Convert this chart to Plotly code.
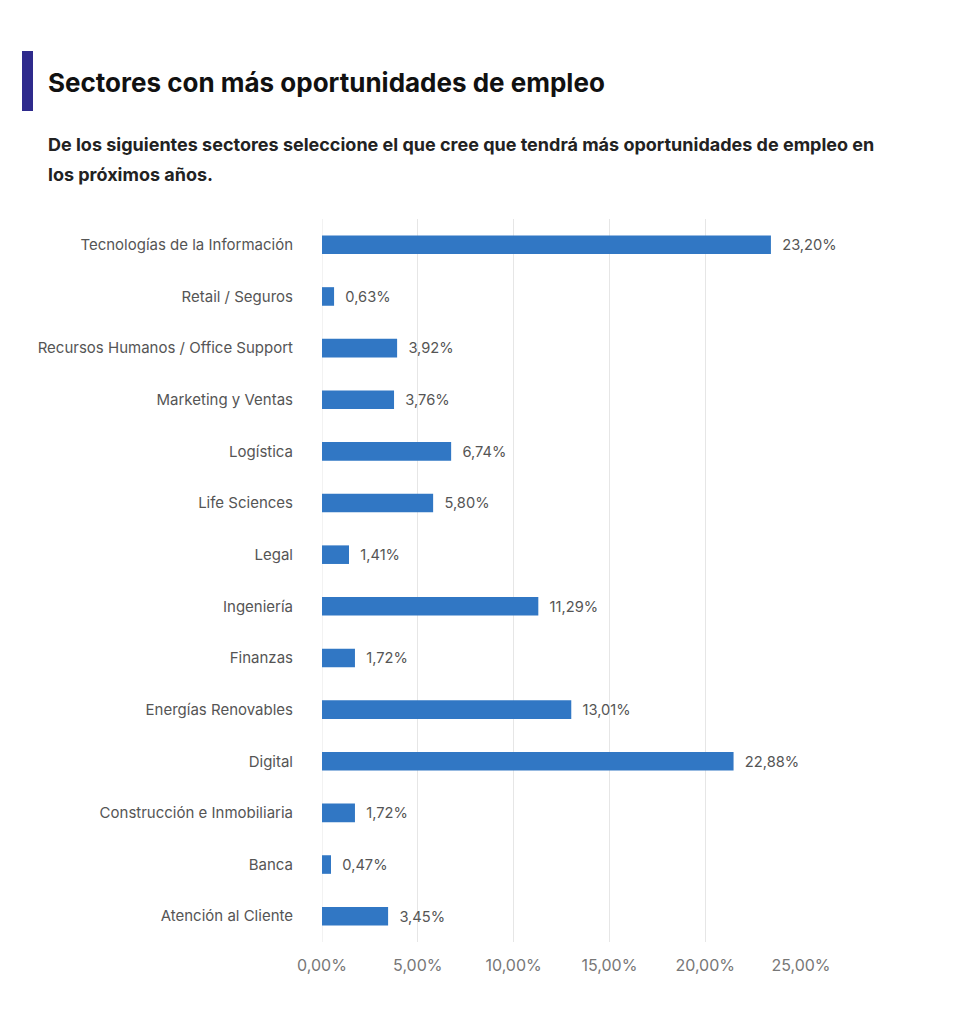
import plotly.graph_objects as go

categories = [
    "Tecnologías de la Información", "Retail / Seguros",
    "Recursos Humanos / Office Support", "Marketing y Ventas", "Logística",
    "Life Sciences", "Legal", "Ingeniería", "Finanzas",
    "Energías Renovables", "Digital", "Construcción e Inmobiliaria",
    "Banca", "Atención al Cliente",
]
# bar lengths as drawn in the picture
bar_values = [23.43, 0.63, 3.92, 3.76, 6.74, 5.80, 1.41, 11.29, 1.72,
              13.01, 21.48, 1.72, 0.47, 3.45]
# printed labels
label_values = [23.20, 0.63, 3.92, 3.76, 6.74, 5.80, 1.41, 11.29, 1.72,
                13.01, 22.88, 1.72, 0.47, 3.45]
tick_values = [0, 5, 10, 15, 20, 25]
tick_labels = ["0,00%", "5,00%", "10,00%", "15,00%", "20,00%", "25,00%"]

labels = ["\u00a0\u00a0" + f"{v:.2f}".replace(".", ",") + "%" for v in label_values]

FONT = "Inter, Lato, sans-serif"

# page body offset of 8px
OFF = 8
W, H = 962 - 2 * OFF, 1024 - 2 * OFF
L = 322 - OFF
T = 219 - OFF
R = W - (801 - OFF)
B = H - (942 - OFF)
ph = H - T - B
pw = W - L - R

def py(ypx):
    return (H - B - (ypx - OFF)) / ph

def px(xpx):
    return ((xpx - OFF) - L) / pw

fig = go.Figure(go.Bar(
    y=categories, x=bar_values, orientation="h",
    marker=dict(color="#3177C4", line=dict(width=0)),
    width=0.36,
    text=labels, textposition="outside", cliponaxis=False,
    textfont=dict(size=15, color="#555555", family=FONT),
    hoverinfo="skip",
))

fig.update_layout(
    width=W, height=H,
    margin=dict(l=L, r=R, t=T, b=B),
    paper_bgcolor="white", plot_bgcolor="white",
    showlegend=False,
    font=dict(family=FONT, color="#555555"),
    xaxis=dict(
        range=[0, 25], tickvals=tick_values, ticktext=tick_labels,
        showgrid=True, gridcolor="#e6e6e6", gridwidth=1,
        zeroline=False, showline=False,
        tickfont=dict(size=16, color="#777777", family=FONT),
        ticklabelstandoff=12, fixedrange=True,
    ),
    yaxis=dict(
        autorange="reversed", showgrid=False, showline=False, zeroline=False,
        tickfont=dict(size=15, color="#555555", family=FONT),
        ticklabelstandoff=28, fixedrange=True,
    ),
    shapes=[dict(
        type="rect", xref="paper", yref="paper",
        x0=px(22), x1=px(33), y0=py(111), y1=py(51),
        fillcolor="#2E2A8C", line=dict(width=0),
    ), dict(
        type="line", xref="x", yref="paper", x0=0, x1=0, y0=0, y1=1,
        line=dict(color="#e6e6e6", width=1), layer="below",
    )],
    annotations=[
        dict(
            text="<b>Sectores con más oportunidades de empleo</b>",
            xref="paper", yref="paper", x=px(46), y=py(82),
            xanchor="left", yanchor="middle", showarrow=False,
            font=dict(size=26, color="#111111", family=FONT),
        ),
        dict(
            text="<b>De los siguientes sectores seleccione el que cree que tendrá más oportunidades de empleo en</b>",
            xref="paper", yref="paper", x=px(46), y=py(145),
            xanchor="left", yanchor="middle", align="left", showarrow=False,
            font=dict(size=18, color="#222222", family=FONT),
        ),
        dict(
            text="<b>los próximos años.</b>",
            xref="paper", yref="paper", x=px(46), y=py(174),
            xanchor="left", yanchor="middle", align="left", showarrow=False,
            font=dict(size=18, color="#222222", family=FONT),
        ),
    ],
)

fig.write_html("out.html")
